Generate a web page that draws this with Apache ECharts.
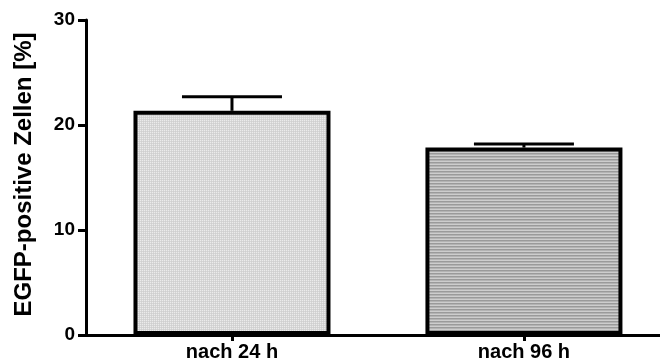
<!DOCTYPE html>
<html>
<head>
<meta charset="utf-8">
<script src="https://cdn.jsdelivr.net/npm/echarts@6/dist/echarts.min.js"></script>
<style>
  html, body { margin: 0; padding: 0; background: #fff; }
  #chart { width: 660px; height: 364px; }
</style>
</head>
<body>
<div id="chart"></div>
<script>
// Groups and measured values
const categories = ['nach 24 h', 'nach 96 h'];
const means = [21.35, 17.85];
const errors = [1.35, 0.35];
const yTicks = [0, 10, 20, 30];

const FONT = '"Liberation Sans", Arial, sans-serif';
const positions = categories.map((_, i) => i);

// Fine dotted fill for the first group
function dotPattern() {
  const c = document.createElement('canvas');
  c.width = 2; c.height = 2;
  const g = c.getContext('2d');
  g.fillStyle = '#d6d6d6'; g.fillRect(0, 0, 2, 2);
  g.fillStyle = '#ebebeb'; g.fillRect(0, 0, 1, 1);
  g.fillStyle = '#cfcfcf'; g.fillRect(1, 1, 1, 1);
  return c;
}
// Horizontal stripe fill for the second group
function stripePattern() {
  const c = document.createElement('canvas');
  c.width = 4; c.height = 3;
  const g = c.getContext('2d');
  g.fillStyle = '#cdcdcd'; g.fillRect(0, 0, 4, 3);
  g.fillStyle = '#9a9a9a'; g.fillRect(0, 0, 4, 1);
  g.fillStyle = '#b3b3b3'; g.fillRect(0, 1, 4, 1);
  return c;
}
const fills = [
  { image: dotPattern(), repeat: 'repeat' },
  { image: stripePattern(), repeat: 'repeat' }
];

const chart = echarts.init(document.getElementById('chart'), null, { renderer: 'canvas' });

chart.setOption({
  animation: false,
  backgroundColor: '#fff',
  grid: { left: 86, top: 20, right: 0, height: 315, containLabel: false },
  xAxis: {
    // group positions on a numeric axis; the frame runs off the right edge
    type: 'value',
    min: -0.5,
    max: 1.466,
    axisLine: { onZero: false, lineStyle: { color: '#000', width: 3 } },
    axisTick: { show: true, customValues: positions, length: 6, lineStyle: { color: '#000', width: 3 } },
    axisLabel: {
      customValues: positions,
      formatter: v => categories[Math.round(v)],
      color: '#000', fontFamily: FONT, fontWeight: 'bold', fontSize: 20, margin: 7
    },
    splitLine: { show: false }
  },
  yAxis: {
    type: 'value',
    min: yTicks[0],
    max: yTicks[yTicks.length - 1],
    interval: 10,
    name: 'EGFP-positive Zellen [%]',
    nameLocation: 'middle',
    nameGap: 50,
    nameTextStyle: { color: '#000', fontFamily: FONT, fontWeight: 'bold', fontSize: 24, padding: [0, 0, 0, 6] },
    axisLine: { show: true, onZero: false, lineStyle: { color: '#000', width: 3 } },
    axisTick: { show: true, length: 8, lineStyle: { color: '#000', width: 3 } },
    axisLabel: { color: '#000', fontFamily: FONT, fontWeight: 'bold', fontSize: 19, margin: 11 },
    splitLine: { show: false }
  },
  series: [
    {
      type: 'bar',
      barWidth: 197,
      data: means.map((v, i) => ({
        value: [positions[i], v],
        itemStyle: { color: fills[i], borderColor: '#000', borderWidth: 4 }
      })),
      z: 2
    },
    {
      // Error bars: stem from the bar top up to mean + error, with a cap
      type: 'custom',
      z: 3,
      data: means.map((v, i) => [positions[i], v, v + errors[i]]),
      renderItem: function (params, api) {
        const base = api.coord([api.value(0), api.value(1)]);
        const top = api.coord([api.value(0), api.value(2)]);
        const half = 50;
        const style = { stroke: '#000', lineWidth: 3 };
        return {
          type: 'group',
          children: [
            { type: 'line', shape: { x1: base[0], y1: base[1], x2: top[0], y2: top[1] }, style: style },
            { type: 'line', shape: { x1: top[0] - half, y1: top[1], x2: top[0] + half, y2: top[1] }, style: style }
          ]
        };
      }
    }
  ]
});
</script>
</body>
</html>
